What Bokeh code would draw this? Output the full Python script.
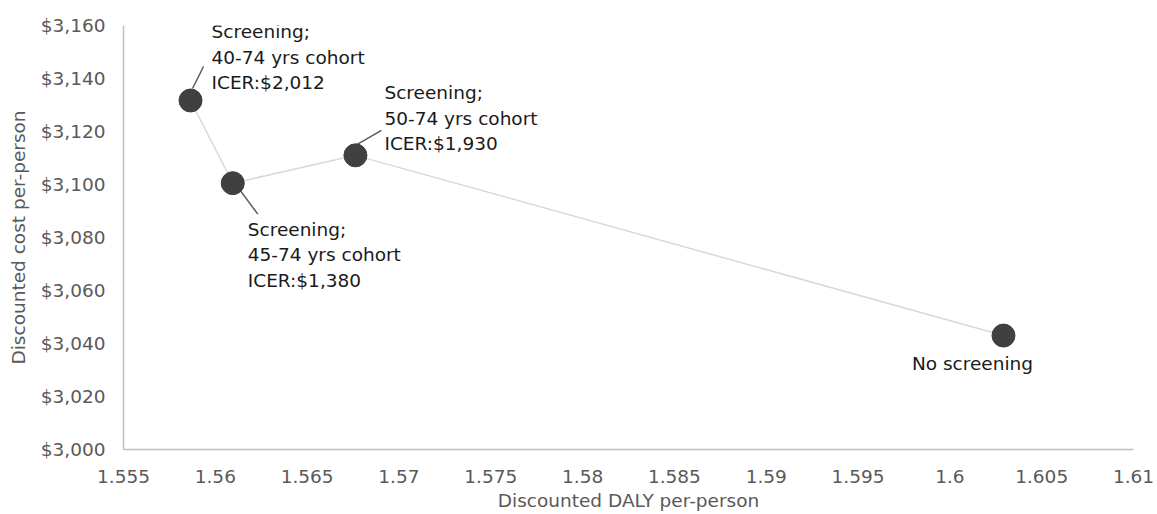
from bokeh.plotting import figure
from bokeh.models import ColumnDataSource, Range1d, FixedTicker, NumeralTickFormatter
from bokeh.core.properties import value
from bokeh.embed import file_html
from bokeh.resources import INLINE

# ---- data ----
strategies = ["Screening 40-74", "Screening 45-74", "Screening 50-74", "No screening"]
daly = [1.55865, 1.56095, 1.56763, 1.60292]
cost = [3131.7, 3100.5, 3111.0, 3043.0]
labels = [
    "Screening;\n40-74 yrs cohort\nICER:$2,012",
    "Screening;\n45-74 yrs cohort\nICER:$1,380",
    "Screening;\n50-74 yrs cohort\nICER:$1,930",
    "No screening",
]
x_ticks = [1.555, 1.56, 1.565, 1.57, 1.575, 1.58, 1.585, 1.59, 1.595, 1.6, 1.605, 1.61]
x_tick_labels = ["1.555", "1.56", "1.565", "1.57", "1.575", "1.58", "1.585", "1.59",
                 "1.595", "1.6", "1.605", "1.61"]
y_ticks = [3000, 3020, 3040, 3060, 3080, 3100, 3120, 3140, 3160]

# ---- styling / layout ----
FONT = "DejaVu Sans"
W, H = 1157, 514
ML, MR, MT, MB = 123, 24, 25, 65
X0, X1 = 1.555, 1.61
Y0, Y1 = 3000, 3160
xs = (W - ML - MR) / (X1 - X0)   # px per unit
ys = (H - MT - MB) / (Y1 - Y0)

# label offsets in px (dx right, dy down) and leader lines (px offsets from point)
label_off = [(21, -79), (15, 36), (29, -73)]
leaders = [((2, -12), (13, -34)), ((5, 4), (25, 31)), ((0, -10), (26, -25))]

p = figure(width=W, height=H, output_backend="svg", toolbar_location=None,
           x_range=Range1d(X0, X1), y_range=Range1d(Y0, Y1),
           min_border_left=ML, min_border_right=MR, min_border_top=MT,
           min_border_bottom=MB)
p.outline_line_color = None
p.xgrid.visible = False
p.ygrid.visible = False
p.background_fill_color = "white"
p.border_fill_color = "white"

for ax in (p.xaxis[0], p.yaxis[0]):
    ax.axis_line_color = "#bfbfbf"
    ax.axis_line_width = 1.5
    ax.major_tick_line_color = None
    ax.minor_tick_line_color = None
    ax.major_tick_out = 0
    ax.major_tick_in = 0
    ax.major_label_text_font = FONT
    ax.major_label_text_font_size = "18.5px"
    ax.major_label_text_color = "#595959"
    ax.axis_label_text_font = FONT
    ax.axis_label_text_font_size = "18.5px"
    ax.axis_label_text_color = "#595959"
    ax.axis_label_text_font_style = "normal"

p.xaxis.ticker = FixedTicker(ticks=x_ticks)
p.xaxis.major_label_overrides = dict(zip(x_ticks, x_tick_labels))
p.xaxis.major_label_standoff = 20
p.xaxis.axis_label = "Discounted DALY per-person"
p.xaxis.axis_label_standoff = 4

p.yaxis.ticker = FixedTicker(ticks=y_ticks)
p.yaxis.formatter = NumeralTickFormatter(format="$0,0")
p.yaxis.major_label_standoff = 18
p.yaxis.axis_label = "Discounted cost per-person"
p.yaxis.axis_label_standoff = 9

src = ColumnDataSource(dict(x=daly, y=cost, name=strategies))

# connecting line
p.line("x", "y", source=src, line_color="#d9d9d9", line_width=1.5)

# leader lines
lx0, ly0, lx1, ly1 = [], [], [], []
for i, ((a, b), (c, d)) in enumerate(leaders):
    lx0.append(daly[i] + a / xs)
    ly0.append(cost[i] - b / ys)
    lx1.append(daly[i] + c / xs)
    ly1.append(cost[i] - d / ys)
p.segment(lx0, ly0, lx1, ly1, line_color="#595959", line_width=1.5)

# markers
p.scatter("x", "y", source=src, size=23, fill_color="#404040", line_color="#404040")

# data labels
n = len(label_off)
p.text(x=daly[:n], y=cost[:n], text=labels[:n],
       x_offset=[o[0] for o in label_off], y_offset=[o[1] for o in label_off],
       text_font=value(FONT), text_font_size="18.5px", text_color="#1a1a1a",
       text_align="left", text_baseline="top", text_line_height=1.2)
p.text(x=daly[n:], y=cost[n:], text=labels[n:], x_offset=[-31], y_offset=[17],
       text_font=value(FONT), text_font_size="18.5px", text_color="#1a1a1a",
       text_align="center", text_baseline="top")

open("out.html", "w").write(file_html(p, INLINE))
